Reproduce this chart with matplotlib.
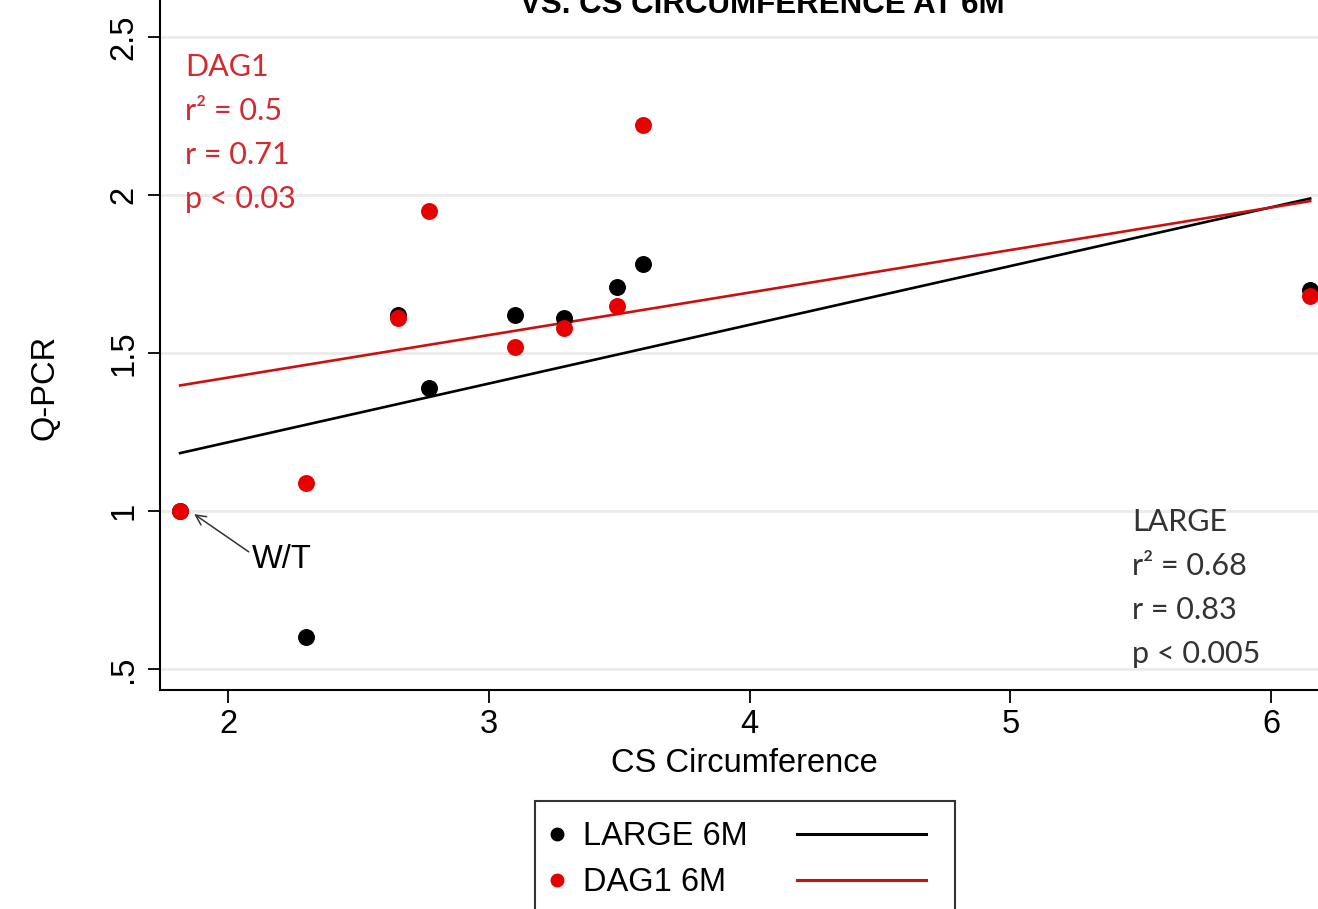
import numpy as np
import matplotlib
matplotlib.use('Agg')
import matplotlib.pyplot as plt
from matplotlib.lines import Line2D

# Data (CS circumference vs Q-PCR, 6 months)
large_x = [1.816, 2.30, 2.65, 2.77, 3.10, 3.29, 3.49, 3.59, 6.15]
large_y = [1.00, 0.60, 1.62, 1.39, 1.62, 1.61, 1.71, 1.78, 1.70]
dag1_x = [1.816, 2.30, 2.65, 2.77, 3.10, 3.29, 3.49, 3.59, 6.15]
dag1_y = [1.00, 1.09, 1.61, 1.95, 1.52, 1.58, 1.65, 2.22, 1.68]

x_ticks = [2, 3, 4, 5, 6]
y_ticks = [0.5, 1, 1.5, 2, 2.5]
y_tick_labels = ['.5', '1', '1.5', '2', '2.5']

dag1_stats = ['DAG1', 'r\u00b2 = 0.5', 'r = 0.71', 'p < 0.03']
large_stats = ['LARGE', 'r\u00b2 = 0.68', 'r = 0.83', 'p < 0.005']

RED = '#e60000'
RED_LINE = '#cc1010'
TXT_RED = '#d42a2f'

plt.rcParams['font.family'] = ['Liberation Sans', 'DejaVu Sans']

W, H = 1318, 909
fig = plt.figure(figsize=(W / 100, H / 100), dpi=100)
ax = fig.add_axes([160 / W, (H - 690) / H, 1 - 160 / W, 690 / H])

ax.set_xlim(1.739, 6.18)
ax.set_ylim(0.4335, 2.617)

# linear fits (as Stata lfit)
def fit_line(x, y):
    b, a = np.polyfit(x, y, 1)
    xs = np.array([min(x), max(x)])
    return xs, a + b * xs

fx, fy = fit_line(large_x, large_y)
ax.plot(fx, fy, color='black', lw=1.9, zorder=2)
fx, fy = fit_line(dag1_x, dag1_y)
ax.plot(fx, fy, color=RED_LINE, lw=1.9, zorder=2)

ax.scatter(large_x, large_y, s=125, color='black', zorder=3, clip_on=False)
ax.scatter(dag1_x, dag1_y, s=125, color=RED, zorder=4, clip_on=False)

# axes styling
for side in ['top', 'right']:
    ax.spines[side].set_visible(False)
for side in ['left', 'bottom']:
    ax.spines[side].set_linewidth(1.5)
ax.set_xticks(x_ticks)
ax.set_yticks(y_ticks)
ax.set_yticklabels(y_tick_labels, rotation=90, va='center')
ax.tick_params(axis='both', labelsize=23.5, length=9, width=1.3, direction='out')
ax.tick_params(axis='x', pad=5)
ax.tick_params(axis='y', pad=6)
ax.yaxis.grid(True, color='#ebebeb', lw=2)
ax.set_axisbelow(True)

ax.set_xlabel('CS Circumference', fontsize=23.5)
ax.xaxis.set_label_coords(0.505, -0.106)
ax.xaxis.label.set_va('center')
ax.set_ylabel('Q-PCR', fontsize=23.5)
ax.yaxis.set_label_coords(-0.099, 0.438)
ax.yaxis.label.set_va('center')

# title, partly cut off at the top as in the original
fig.text(762 / W, 1 - 13 / H, 'VS. CS CIRCUMFERENCE AT 6M', ha='center',
         va='baseline', fontsize=22.5, fontweight='bold')

# stats boxes
for i, s in enumerate(dag1_stats):
    fig.text(185 / W, 1 - (76 + 44 * i) / H, s, family='Lato', fontsize=22,
             color=TXT_RED, va='baseline')
for i, s in enumerate(large_stats):
    fig.text(1132 / W, 1 - (531 + 44 * i) / H, s, family='Lato', fontsize=22,
             color='#333333', va='baseline')

# W/T marker label
ax.annotate('W/T', xy=(1.87, 0.99), xytext=(2.09, 0.845), fontsize=23.5,
            ha='left', va='center',
            arrowprops=dict(arrowstyle='->', color='#333333', lw=1.1,
                            shrinkA=0, shrinkB=0, mutation_scale=18,
                            relpos=(0, 0.7)))

# legend: markers + labels in a framed box, fit lines to the right
fs = 23.5
mk = [Line2D([], [], ls='', marker='o', ms=9, color='black'),
      Line2D([], [], ls='', marker='o', ms=9, color=RED)]
leg1 = fig.legend(mk, ['LARGE 6M', 'DAG1 6M'], loc='upper left',
                  bbox_to_anchor=(535 / W, 0, 420 / W, 1 - 801 / H),
                  mode='expand', fontsize=fs, frameon=True, fancybox=False,
                  borderpad=0.62, borderaxespad=0, handlelength=0.1,
                  handletextpad=0.76, labelspacing=0.45)
leg1.get_frame().set_edgecolor('black')
leg1.get_frame().set_linewidth(1.5)

ln = [Line2D([], [], color='black', lw=2.2),
      Line2D([], [], color=RED_LINE, lw=2.2)]
fig.legend(ln, ['', ''], loc='upper left',
           bbox_to_anchor=(777 / W, 1 - 801 / H),
           fontsize=fs, frameon=False, borderpad=0.62, borderaxespad=0,
           handlelength=3.93, handletextpad=0, labelspacing=0.45)

fig.savefig('out.png', dpi=100)
